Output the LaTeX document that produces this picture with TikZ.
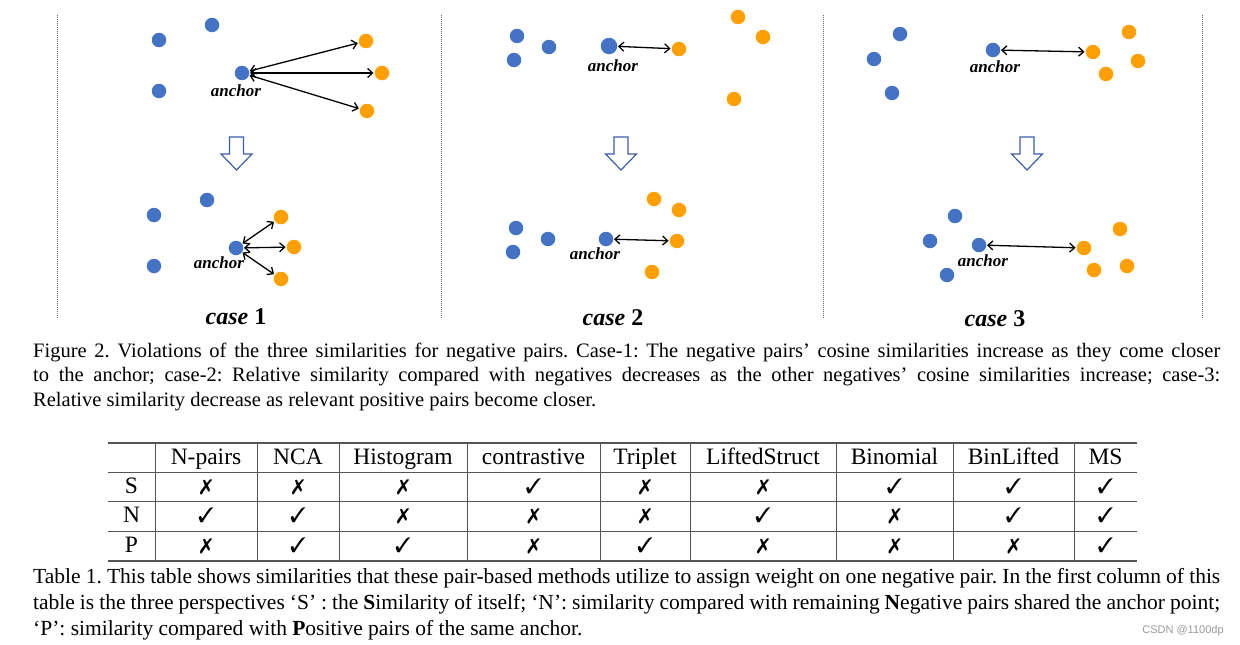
\documentclass[tikz,border=0pt]{standalone}
\usepackage{fontspec}
\setmainfont{Liberation Serif}
\newfontfamily\marksans{Liberation Sans}
\usepackage{pifont}
\usetikzlibrary{arrows.meta}
\definecolor{negblue}{HTML}{4472C4}
\definecolor{posorange}{HTML}{FF9F00}
\definecolor{hollowblue}{HTML}{3B5FA8}
\definecolor{rulegray}{HTML}{555555}
\newcommand{\yes}{\ding{51}}
\newcommand{\no}{\ding{55}}
\frenchspacing

\begin{document}
\begin{tikzpicture}[x=1pt,y=-1pt,
    negdot/.style={circle,fill=negblue,inner sep=0pt,minimum size=14.5pt},
    posdot/.style={circle,fill=posorange,inner sep=0pt,minimum size=14.5pt},
    pair/.style={{Straight Barb[length=5pt,width=9pt]}-{Straight Barb[length=5pt,width=9pt]},line width=1.3pt,shorten <=0.5pt,shorten >=1pt},
    lbl/.style={font=\fontsize{17}{17}\selectfont\bfseries\itshape,inner sep=0pt},
    casetxt/.style={font=\fontsize{24}{24}\selectfont\bfseries,inner sep=0pt},
    splitline/.style={line width=1pt,dash pattern=on 1pt off 1pt,black!60},
    hollow/.style={draw=hollowblue,fill=white,line width=1.2pt,line join=miter},
    cell/.style={font=\fontsize{23.5}{23.5}\selectfont,inner sep=0pt,anchor=base},
    capline/.style={anchor=base west,inner sep=0pt,font=\fontsize{20.5}{24}\selectfont},
    tabline/.style={anchor=base west,inner sep=0pt,font=\fontsize{21.5}{25}\selectfont}]
  \useasboundingbox (0,0) rectangle (1240,645);

  % dotted separators
  \foreach \x in {57,441,823,1202}
    \draw[splitline] (\x,15) -- (\x,318);

  % hollow arrows
  \foreach \cx in {236.5,621,1027}
    \draw[hollow] (\cx-7,137) -- (\cx+7,137) -- (\cx+7,154) -- (\cx+15.5,154)
      -- (\cx,170) -- (\cx-15.5,154) -- (\cx-7,154) -- cycle;

  % case 1, before
  \node[negdot] (n11) at (212,25) {};
  \node[negdot] (n12) at (159,40) {};
  \node[negdot] (n13) at (159,91) {};
  \node[negdot] (a1) at (242,73) {};
  \node[posdot] (p11) at (366,41) {};
  \node[posdot] (p12) at (382,73) {};
  \node[posdot] (p13) at (367,111) {};
  \node[lbl] (l1) at (236,91) {anchor};
  \draw[pair] (a1) -- (p11);
  \draw[pair] (a1) -- (p12);
  \draw[pair] (a1) -- (p13);

  % case 1, after
  \node[negdot] (n14) at (207,200) {};
  \node[negdot] (n15) at (154,215) {};
  \node[negdot] (n16) at (154,266) {};
  \node[negdot] (a1b) at (236,248) {};
  \node[posdot] (p14) at (281,217) {};
  \node[posdot] (p15) at (294,247) {};
  \node[posdot] (p16) at (281,279) {};
  \node[lbl] (l1b) at (219,263) {anchor};
  \draw[pair] (a1b) -- (p14);
  \draw[pair] (a1b) -- (p15);
  \draw[pair] (a1b) -- (p16);
  \node[casetxt] (c1) at (236,317) {\itshape case \upshape 1};

  % case 2, before
  \node[negdot] (n21) at (517,36) {};
  \node[negdot] (n22) at (549,47) {};
  \node[negdot] (n23) at (514,60) {};
  \node[negdot,minimum size=16.5pt] (a2) at (609,46) {};
  \node[posdot] (p21) at (738,17) {};
  \node[posdot] (p22) at (763,37) {};
  \node[posdot] (p23) at (679,49) {};
  \node[posdot] (p24) at (734,99) {};
  \node[lbl] (l2) at (613,66) {anchor};
  \draw[pair] (a2) -- (p23);

  % case 2, after
  \node[negdot] (n24) at (516,228) {};
  \node[negdot] (n25) at (548,239) {};
  \node[negdot] (n26) at (513,252) {};
  \node[negdot] (a2b) at (606,239) {};
  \node[posdot] (p25) at (654,199) {};
  \node[posdot] (p26) at (679,210) {};
  \node[posdot] (p27) at (677,241) {};
  \node[posdot] (p28) at (652,272) {};
  \node[lbl] (l2b) at (595,254) {anchor};
  \draw[pair] (a2b) -- (p27);
  \node[casetxt] (c2) at (613,318) {\itshape case \upshape 2};

  % case 3, before
  \node[negdot] (n31) at (900,34) {};
  \node[negdot] (n32) at (874,59) {};
  \node[negdot] (n33) at (892,93) {};
  \node[negdot] (a3) at (993,50) {};
  \node[posdot] (p31) at (1129,32) {};
  \node[posdot] (p32) at (1093,52) {};
  \node[posdot] (p33) at (1138,61) {};
  \node[posdot] (p34) at (1106,74) {};
  \node[lbl] (l3) at (995,67) {anchor};
  \draw[pair] (a3) -- (p32);

  % case 3, after
  \node[negdot] (n34) at (955,216) {};
  \node[negdot] (n35) at (930,241) {};
  \node[negdot] (n36) at (947,275) {};
  \node[negdot] (a3b) at (979,245) {};
  \node[posdot] (p35) at (1120,229) {};
  \node[posdot] (p36) at (1084,248) {};
  \node[posdot] (p37) at (1094,270) {};
  \node[posdot] (p38) at (1127,266) {};
  \node[lbl] (l3b) at (983,261) {anchor};
  \draw[pair] (a3b) -- (p36);
  \node[casetxt] (c3) at (995,319) {\itshape case \upshape 3};

  % figure caption
  \node[capline] (fc1) at (33,357) {\makebox[1187pt][s]{Figure 2. Violations of the three similarities for negative pairs. Case-1: The negative pairs’ cosine similarities increase as they come closer}};
  \node[capline] (fc2) at (33,381.5) {\makebox[1187pt][s]{to the anchor; case-2: Relative similarity compared with negatives decreases as the other negatives’ cosine similarities increase; case-3:}};
  \node[capline] (fc3) at (33,406) {Relative similarity decrease as relevant positive pairs become closer.};

  % table rules
  \draw[line width=1.2pt,rulegray] (108,443) -- (1137,443);
  \draw[line width=1.2pt,rulegray] (108,561) -- (1137,561);
  \foreach \y in {472,501.5,531}
    \draw[line width=1pt,rulegray] (108,\y) -- (1137,\y);
  \foreach \x in {155,257,339,467,600,690,836,953,1074}
    \draw[line width=1pt,rulegray] (\x,443) -- (\x,561);

  % table header
  \foreach \t/\x [count=\i] in {N-pairs/206,NCA/298,Histogram/403,contrastive/533.5,Triplet/645,LiftedStruct/763,Binomial/894.5,BinLifted/1013.5,MS/1105.5}
    \node[cell] (h\i) at (\x,464) {\t};

  % table rows
  \foreach \r/\y/\marks in {S/493/{0,0,0,1,0,0,1,1,1},N/522.5/{1,1,0,0,0,1,0,1,1},P/552.5/{0,1,1,0,1,0,0,0,1}} {
    \node[cell] (r\r) at (131.5,\y) {\r};
    \foreach \m [count=\c] in \marks {
      \pgfmathsetmacro\xx{{206,298,403,533.5,645,763,894.5,1013.5,1105.5}[\c-1]}
      \node[cell,font=\fontsize{21}{21}\selectfont] (m\r\c) at (\xx,\y) {\ifnum\m=1 \yes\else\no\fi};
    }
  }

  % table caption
  \node[tabline] (tc1) at (33,583) {\makebox[1187pt][s]{Table 1. This table shows similarities that these pair-based methods utilize to assign weight on one negative pair. In the first column of this}};
  \node[tabline] (tc2) at (33,609) {\makebox[1187pt][s]{table is the three perspectives ‘S’ : the \textbf{S}imilarity of itself; ‘N’: similarity compared with remaining \textbf{N}egative pairs shared the anchor point;}};
  \node[tabline] (tc3) at (33,635) {‘P’: similarity compared with \textbf{P}ositive pairs of the same anchor.};

  \node[inner sep=0pt,text=gray!80,font=\marksans\fontsize{11}{11}\selectfont] (wm) at (1183,631) {CSDN @1100dp};
\end{tikzpicture}
\end{document}
